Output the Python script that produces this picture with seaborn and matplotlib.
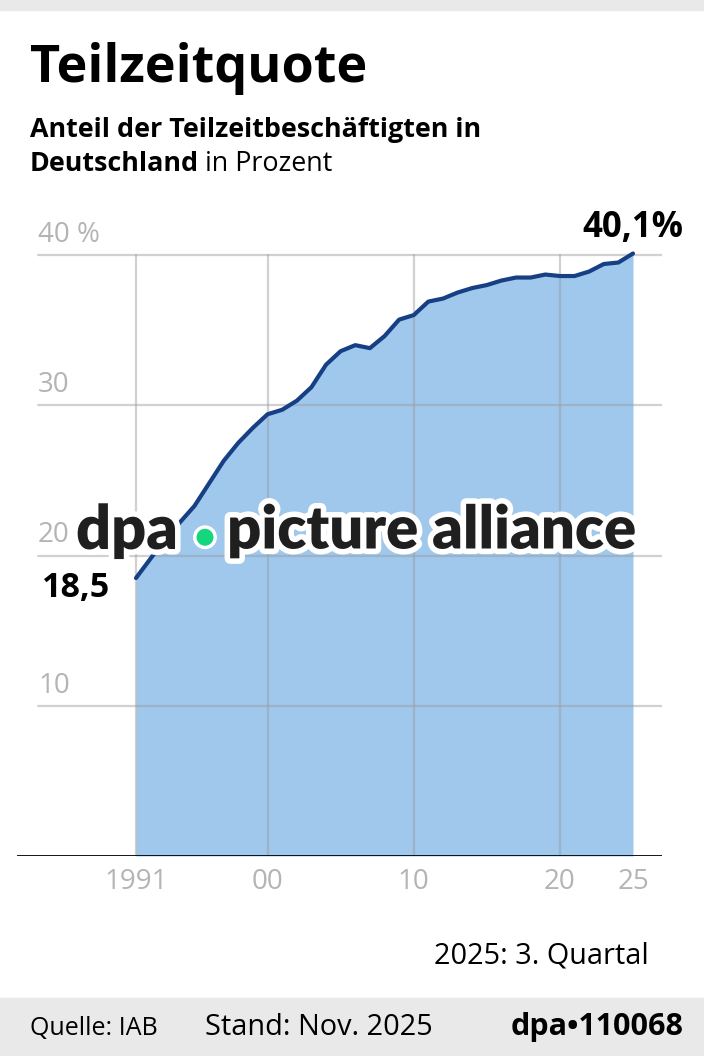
import matplotlib
matplotlib.use("Agg")
import matplotlib.pyplot as plt
import matplotlib.patheffects as pe
from matplotlib.patches import Rectangle
import seaborn as sns
import pandas as pd

years = list(range(1991, 2026))
quote = [18.5, 19.8, 21.1, 22.2, 23.3, 24.8, 26.3, 27.5, 28.5, 29.4,
         29.7, 30.3, 31.2, 32.7, 33.6, 34.0, 33.8, 34.6, 35.7, 36.0,
         36.9, 37.1, 37.5, 37.8, 38.0, 38.3, 38.5, 38.5, 38.7, 38.6,
         38.6, 38.9, 39.4, 39.5, 40.1]
x_ticks = [1991, 2000, 2010, 2020, 2025]
x_labels = ["1991", "00", "10", "20", "25"]
y_ticks = [10, 20, 30, 40]
y_labels = ["10", "20", "30", "40 %"]

df = pd.DataFrame({"Jahr": years, "Quote": quote})

sns.set_style("white")
FONT = "Open Sans"
plt.rcParams["font.family"] = [FONT, "DejaVu Sans"]
plt.rcParams["text.color"] = "black"

W, H = 704, 1056
fig = plt.figure(figsize=(W / 100, H / 100), dpi=100)
fig.patch.set_facecolor("white")

def fx(px):
    return px / W

def fy(py):
    return 1 - py / H

# top band and footer
fig.patches.append(Rectangle((0, fy(10)), 1, 10 / H, transform=fig.transFigure,
                             color="#e9e9e9", zorder=0))
fig.patches.append(Rectangle((0, 0), 1, 58 / H, transform=fig.transFigure,
                             color="#e9e9e9", zorder=0))

# axes: px 17..662 horizontally, 200..856 vertically
px_per_year = (633 - 136) / 34
x0 = 1991 - (136 - 17) / px_per_year
x1 = 1991 + (662 - 136) / px_per_year
px_per_unit = (856 - 255) / 40
ytop = (856 - 200) / px_per_unit

ax = fig.add_axes([fx(17), fy(856), (662 - 17) / W, (856 - 200) / H])
ax.set_xlim(x0, x1)
ax.set_ylim(0, ytop)
ax.set_facecolor("none")
for s in ax.spines.values():
    s.set_visible(False)
ax.set_xticks([])
ax.set_yticks([])

ax.fill_between(df["Jahr"], 0, df["Quote"], color="#9fc8ec", lw=0, zorder=1)

grid_c = "#9a9a9a"
gx0 = (38 - 17) / (662 - 17)
for y in y_ticks:
    ax.axhline(y, xmin=gx0, xmax=1, color=grid_c, lw=1.6, alpha=0.45, zorder=2)
for xv in x_ticks[:-1]:
    ax.plot([xv, xv], [0, 40], color=grid_c, lw=1.6, alpha=0.45, zorder=2)

sns.lineplot(data=df, x="Jahr", y="Quote", ax=ax, color="#173f83", lw=3.0,
             zorder=4, legend=False)
ax.set_xlabel("")
ax.set_ylabel("")
ax.axhline(0, color="black", lw=2.0, zorder=5)

tick_c = "#b4b4b4"
for yv, lab in zip(y_ticks, y_labels):
    ax.text(x0 + 21 / px_per_year, yv + 0.4, lab, color=tick_c, fontsize=20,
            ha="left", va="bottom", zorder=6)
for xv, lab in zip(x_ticks, x_labels):
    ax.text(xv, -0.8, lab, color=tick_c, fontsize=20, ha="center", va="top", zorder=6)

ax.annotate("18,5", (years[0], quote[0]), xytext=(-43, -7), textcoords="offset points",
            fontsize=24.5, fontweight="bold", ha="center", va="center", zorder=6)
ax.annotate("40,1%", (years[-1], quote[-1]), xytext=(0, 18), textcoords="offset points",
            fontsize=25, fontweight="bold", ha="center", va="center", zorder=6)

# watermark
stroke = [pe.withStroke(linewidth=8, foreground="white")]
fig.text(fx(76), fy(531), "dpa", fontsize=44, fontweight="heavy", color="#1f1f1f",
         ha="left", va="center", family=["Lato", "DejaVu Sans"], path_effects=stroke, zorder=10)
fig.text(fx(227), fy(531), "picture alliance", fontsize=43, fontweight="heavy", color="#1f1f1f",
         ha="left", va="center", family=["Lato", "DejaVu Sans"], path_effects=stroke, zorder=10)
fig.text(fx(205), fy(537), "\u25cf", fontsize=16, color="#13d67e", ha="center", va="center",
         family=["DejaVu Sans"], path_effects=[pe.withStroke(linewidth=5, foreground="white")],
         zorder=10)

# titles
fig.text(fx(30), fy(82), "Teilzeitquote", fontsize=37.5, fontweight="bold", ha="left",
         va="baseline")
fig.text(fx(30), fy(137), "Anteil der Teilzeitbeschäftigten in", fontsize=19.4,
         fontweight="bold", ha="left", va="baseline")
t = fig.text(fx(30), fy(171), "Deutschland", fontsize=19.4, fontweight="bold", ha="left",
             va="baseline")
fig.canvas.draw()
bb = t.get_window_extent()
fig.text(bb.x1 / W + 0.009, fy(171), "in Prozent", fontsize=19.4, ha="left", va="baseline")

fig.text(fx(649), fy(963), "2025: 3. Quartal", fontsize=20.8, ha="right", va="baseline")
fig.text(fx(30), fy(1035), "Quelle: IAB", fontsize=18, ha="left", va="baseline")
fig.text(fx(205), fy(1035), "Stand: Nov. 2025", fontsize=20.8, ha="left", va="baseline")
fig.text(fx(683), fy(1035), "dpa\u2022110068", fontsize=22, fontweight="bold", ha="right",
         va="baseline")

fig.savefig("out.png", dpi=100)
